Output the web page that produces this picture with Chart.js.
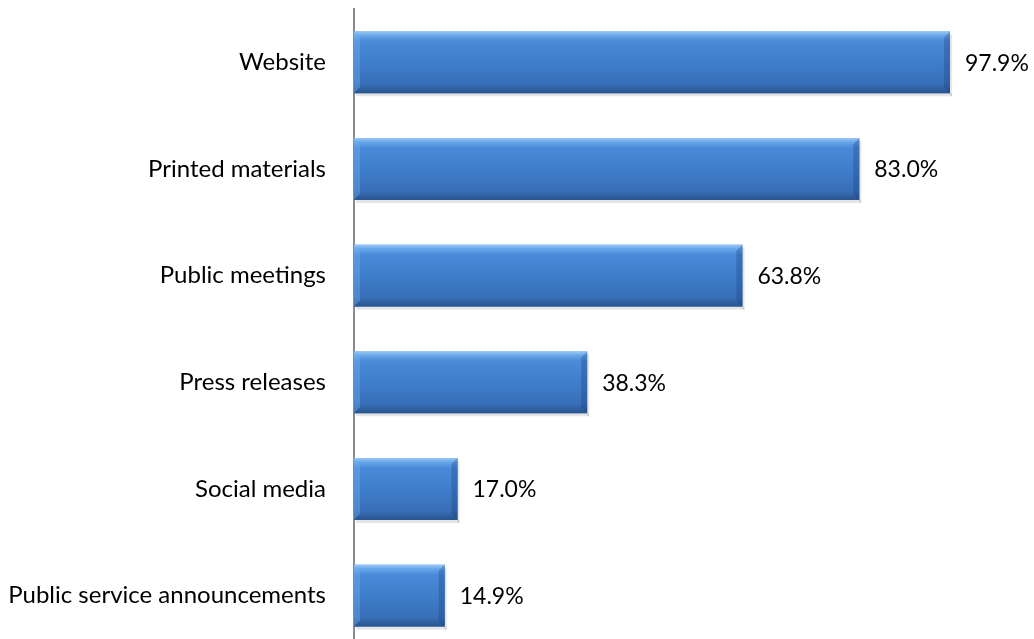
<!DOCTYPE html>
<html lang="en">
<head>
  <meta charset="UTF-8">
  <title>Communication channels</title>
  <script src="https://cdn.jsdelivr.net/npm/chart.js"></script>
  <style>
    html, body { margin: 0; padding: 0; background: #fff; overflow: hidden; }
    #wrap { position: relative; width: 1034px; height: 650px; }
  </style>
</head>
<body>
<div id="wrap"><canvas id="chart"></canvas></div>

<script>
const categories = ['Website', 'Printed materials', 'Public meetings', 'Press releases', 'Social media', 'Public service announcements'];
const values = [97.9, 83.0, 63.8, 38.3, 17.0, 14.9];

const FONT = 'Lato';
const FONT_SIZE = 23;

// bevelled Excel-style bars: gradient body, lit left/top edge, dark right/bottom edge
const bevel = {
  id: 'bevel',
  afterDatasetsDraw(chart) {
    const c = chart.ctx;
    const meta = chart.getDatasetMeta(0);
    c.save();
    meta.data.forEach((el, i) => {
      const h = el.height, l = el.base, r = el.x, t = el.y - h / 2, b = el.y + h / 2;
      const d = 6;
      // soft shadow
      c.fillStyle = 'rgba(0,0,0,0.10)';
      c.fillRect(l + 2, b, r - l, 3);
      c.fillRect(r, t + 3, 2, h);
      // body gradient
      const g = c.createLinearGradient(0, t, 0, b);
      g.addColorStop(0, '#9ccaf6');
      g.addColorStop(0.06, '#6aa9ea');
      g.addColorStop(0.16, '#4a8ad8');
      g.addColorStop(0.5, '#3f7ecb');
      g.addColorStop(0.85, '#386fb8');
      g.addColorStop(0.94, '#2f5f9f');
      g.addColorStop(1, '#28538c');
      c.fillStyle = g;
      c.fillRect(l, t, r - l, h);
      // left edge lighter
      c.fillStyle = 'rgba(120,180,240,0.35)';
      c.beginPath(); c.moveTo(l, t); c.lineTo(l + d, t + d); c.lineTo(l + d, b - d); c.lineTo(l, b); c.closePath(); c.fill();
      // right edge darker
      c.fillStyle = 'rgba(25,60,120,0.30)';
      c.beginPath(); c.moveTo(r, t); c.lineTo(r - d, t + d); c.lineTo(r - d, b - d); c.lineTo(r, b); c.closePath(); c.fill();
      // value label
      c.fillStyle = '#000';
      c.font = FONT_SIZE + 'px ' + FONT;
      c.textAlign = 'left';
      c.textBaseline = 'middle';
      c.fillText(values[i].toFixed(1) + '%', r + 15, el.y + 1);
    });
    c.restore();
  }
};

new Chart(document.getElementById('chart'), {
  type: 'bar',
  data: {
    labels: categories,
    datasets: [{
      data: values,
      backgroundColor: '#3f7ecb',
      borderWidth: 0,
      barPercentage: 0.58,
      categoryPercentage: 1.0
    }]
  },
  options: {
    indexAxis: 'y',
    responsive: true,
    maintainAspectRatio: false,
    animation: false,
    layout: { padding: { top: 9, right: 0, bottom: 1, left: 0 } },
    plugins: { legend: { display: false }, tooltip: { enabled: false } },
    scales: {
      x: { min: 0, max: 111.7, display: false },
      y: {
        grid: { display: false },
        border: { display: true, color: '#8a8a8a', width: 2 },
        ticks: { color: '#000', padding: 20, font: { family: FONT, size: 24 } },
        afterFit(scale) {
          scale.width = 354;
          scale.paddingTop = 0;
          scale.paddingBottom = 0;
        }
      }
    }
  },
  plugins: [bevel]
});
</script>
</body>
</html>
